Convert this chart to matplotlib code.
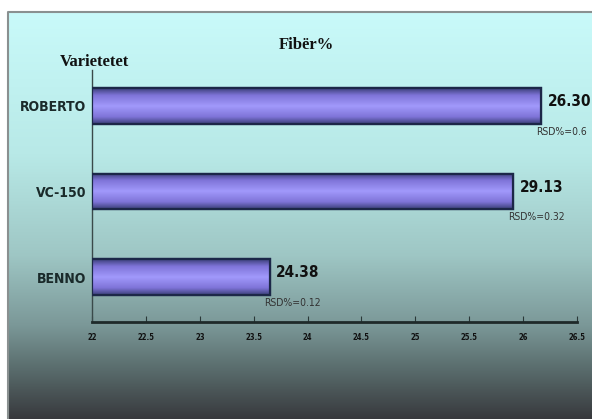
import numpy as np
import matplotlib.pyplot as plt
from matplotlib.colors import LinearSegmentedColormap

varieties = ['BENNO', 'VC-150', 'ROBERTO']
fiber = [23.65, 25.91, 26.17]
value_labels = ['24.38', '29.13', '26.30']
rsd_labels = ['RSD%=0.12', 'RSD%=0.32', 'RSD%=0.6']
xticks = [22, 22.5, 23, 23.5, 24, 24.5, 25, 25.5, 26, 26.5]

narrow = ['DejaVu Sans']
serif = ['Liberation Serif', 'DejaVu Serif']

fig = plt.figure(figsize=(5.92, 4.19), dpi=100)

# background gradient panel
bg = fig.add_axes([0, 0, 1, 1])
bg_cmap = LinearSegmentedColormap.from_list('bg', [
    (0.0, '#c9fafa'), (0.35, '#b8e9e7'), (0.6, '#9ec6c4'),
    (0.77, '#7b9898'), (0.87, '#5c7070'), (1.0, '#38393d')])
grad = np.linspace(0, 1, 256).reshape(-1, 1)
bg.imshow(grad, aspect='auto', cmap=bg_cmap, extent=[8 / 592, 1, 0, 1 - 12 / 419])
bg.plot([8 / 592, 8 / 592, 1], [0, 1 - 12 / 419, 1 - 12 / 419], color='#8a9090', lw=1.5)
bg.set_xlim(0, 1)
bg.set_ylim(0, 1)
bg.axis('off')

ax = fig.add_axes([92 / 592, 97 / 419, 485 / 592, 252 / 419])
ax.patch.set_alpha(0)
ypos = np.arange(len(varieties))
bars = ax.barh(ypos, [v - xticks[0] for v in fiber], left=xticks[0], height=0.42,
               color='#9a8ff2', edgecolor='#1c2748', linewidth=1.6, zorder=3)

bar_cmap = LinearSegmentedColormap.from_list('bar', [
    (0.0, '#3a3f78'), (0.2, '#7f74d8'), (0.5, '#a199fb'), (0.8, '#7f74d8'), (1.0, '#3a3f78')])
for b in bars:
    x0, y0, w, h = b.get_x(), b.get_y(), b.get_width(), b.get_height()
    im = ax.imshow(grad, aspect='auto', cmap=bar_cmap, extent=[x0, x0 + w, y0, y0 + h], zorder=3.5)
    im.set_clip_path(b)
    ax.barh(b.get_y() + h / 2, w, left=x0, height=h, color='none',
            edgecolor='#1c2748', linewidth=1.6, zorder=4)

for y, v, lab, rsd in zip(ypos, fiber, value_labels, rsd_labels):
    ax.text(v + 0.06, y + 0.05, lab, fontsize=11, fontweight='bold', family=narrow,
            fontstretch='condensed', color='#111111', va='center', ha='left', zorder=5)
    ax.text(v - 0.05, y - 0.3, rsd, fontsize=7.5, family=narrow, fontstretch='condensed',
            color='#333333', va='center', ha='left', zorder=5)

ax.set_xlim(xticks[0], xticks[-1])
ax.set_ylim(-0.526, 2.42)
ax.set_xticks(xticks)
ax.set_xticklabels([f'{t:g}' for t in xticks], fontsize=5.5, fontweight='bold',
                   family=narrow, fontstretch='condensed', color='#111111')
ax.set_yticks(ypos)
ax.set_yticklabels(varieties, fontsize=10, fontweight='bold', family=narrow,
                   fontstretch='condensed', color='#1a2a2a')
ax.tick_params(axis='x', direction='in', length=4, color='#2a3838', pad=8)
ax.tick_params(axis='y', length=0, pad=4)
for s in ['top', 'right']:
    ax.spines[s].set_visible(False)
ax.spines['bottom'].set_color('#1f2a2a')
ax.spines['bottom'].set_linewidth(2)
ax.spines['left'].set_color('#3a4a4a')
ax.spines['left'].set_linewidth(1)

fig.text(94 / 592, 1 - 62 / 419, 'Varietetet', fontsize=12, fontweight='bold', family=serif,
         color='#111111', ha='center', va='center')
fig.text(306 / 592, 1 - 45 / 419, 'Fibër%', fontsize=12, fontweight='bold', family=serif,
         color='#111111', ha='center', va='center')

fig.savefig('out.png', dpi=100)
